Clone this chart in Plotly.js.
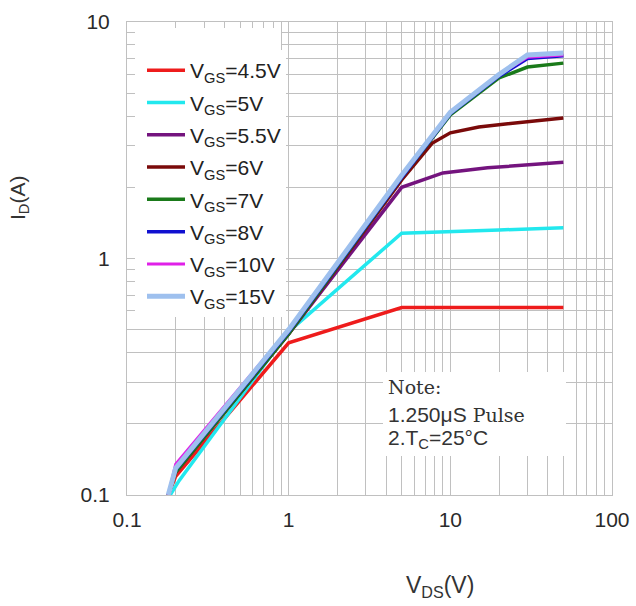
<!DOCTYPE html>
<html>
<head>
<meta charset="utf-8">
<script src="https://cdn.plot.ly/plotly-3.0.1.min.js"></script>
<style>html,body{margin:0;padding:0;background:#fff;}#chart{width:636px;height:606px;}</style>
</head>
<body>
<div id="chart"></div>
<script>
// ---- data (V_DS in V, I_D in A) ----
const seriesNames = ["V<sub>GS</sub>=4.5V","V<sub>GS</sub>=5V","V<sub>GS</sub>=5.5V","V<sub>GS</sub>=6V","V<sub>GS</sub>=7V","V<sub>GS</sub>=8V","V<sub>GS</sub>=10V","V<sub>GS</sub>=15V"];
const seriesColors = ["#ee1c1c","#22e8ee","#74147e","#7a0a0a","#1a7a1a","#1010d0","#e020e8","#9ec0ee"];

const vds_45 = [0.18, 0.2, 1, 5, 50];
const id_45  = [0.1, 0.12, 0.44, 0.62, 0.62];
const vds_5  = [0.185, 0.21, 1, 5, 20, 50];
const id_5   = [0.1, 0.115, 0.49, 1.28, 1.32, 1.35];
const vds_55 = [0.18, 0.2, 1, 5, 9, 17, 50];
const id_55  = [0.1, 0.125, 0.48, 2.0, 2.3, 2.42, 2.55];
const vds_6  = [0.18, 0.2, 1, 5, 7.7, 10, 15, 50];
const id_6   = [0.1, 0.125, 0.48, 2.15, 3.07, 3.4, 3.6, 3.93];
const vds_7  = [0.18, 0.2, 1, 5, 10, 20, 30, 50];
const id_7   = [0.1, 0.125, 0.48, 2.2, 4.05, 5.8, 6.45, 6.7];
const vds_8  = [0.18, 0.2, 1, 5, 10, 20, 30, 50];
const id_8   = [0.1, 0.128, 0.49, 2.2, 4.1, 5.9, 7.0, 7.2];
const vds_10 = [0.18, 0.2, 1, 5, 10, 20, 30, 50];
const id_10  = [0.1, 0.135, 0.5, 2.25, 4.15, 6.0, 7.1, 7.25];
const vds_15 = [0.18, 0.2, 1, 5, 10, 20, 30, 50];
const id_15  = [0.1, 0.13, 0.5, 2.25, 4.15, 6.0, 7.25, 7.4];

const xs = [vds_45, vds_5, vds_55, vds_6, vds_7, vds_8, vds_10, vds_15];
const ys = [id_45, id_5, id_55, id_6, id_7, id_8, id_10, id_15];
const widths = [3.5, 3.5, 3.5, 3.5, 3.5, 3.5, 3, 5];

const xTickVals = [0.1, 1, 10, 100];
const xTickText = ["0.1", "1", "10", "100"];
const yTickVals = [0.1, 1, 10];
const yTickText = ["0.1", "1", "10"];

const traces = xs.map((x, i) => ({
  type: "scatter", mode: "lines",
  x: x, y: ys[i], name: seriesNames[i],
  legendgroup: "g" + i,
  line: {color: seriesColors[i], width: widths[i]}
}));

const gridC = "#c0c0c0";
const sans = "Liberation Sans, Arial, sans-serif";
const tickFont = {family: sans, size: 21, color: "#2a2a2a"};

// plot area in pixels: left 127, right 612, top 22, bottom 495
const px = v => (v - 127) / 485;
const py = v => (495 - v) / 473;

const layout = {
  width: 636, height: 606,
  margin: {l: 127, r: 24, t: 22, b: 111},
  paper_bgcolor: "#fff", plot_bgcolor: "#fff",
  showlegend: true,
  legend: {
    x: px(142), y: py(50), xanchor: "left", yanchor: "top",
    bgcolor: "#fff", borderwidth: 0,
    font: {family: sans, size: 21, color: "#222"},
    tracegroupgap: 2, traceorder: "grouped", itemwidth: 38
  },
  xaxis: {
    type: "log", range: [-1, 2],
    tickvals: xTickVals, ticktext: xTickText,
    showgrid: true, gridcolor: gridC, gridwidth: 1,
    minor: {dtick: "D1", showgrid: true, gridcolor: gridC, gridwidth: 1, ticks: ""},
    showline: true, linecolor: gridC, linewidth: 1, mirror: true,
    ticks: "", tickfont: tickFont, ticklabelstandoff: 6, zeroline: false
  },
  yaxis: {
    type: "log", range: [-1, 1],
    tickvals: yTickVals, ticktext: yTickText,
    showgrid: true, gridcolor: gridC, gridwidth: 1,
    minor: {dtick: "D1", showgrid: true, gridcolor: gridC, gridwidth: 1, ticks: ""},
    showline: true, linecolor: gridC, linewidth: 1, mirror: true,
    ticks: "", tickfont: tickFont, ticklabelstandoff: 12, zeroline: false
  },
  shapes: [
    {type: "rect", xref: "paper", yref: "paper", layer: "above",
     x0: px(135), x1: px(281), y0: py(313), y1: py(28),
     fillcolor: "#fff", line: {width: 0}},
    {type: "rect", xref: "paper", yref: "paper", layer: "above",
     x0: px(383), x1: px(566), y0: py(456), y1: py(372),
     fillcolor: "#fff", line: {width: 0}}
  ],
  annotations: [
    {xref: "paper", yref: "paper", x: px(386), y: py(387), xanchor: "left", yanchor: "middle",
     text: "Note:", showarrow: false,
     font: {family: "DejaVu Serif, Liberation Serif, serif", size: 19, color: "#333"}},
    {xref: "paper", yref: "paper", x: px(386), y: py(414), xanchor: "left", yanchor: "middle",
     text: "1.250μS<span style=\"font-family:'DejaVu Serif';font-size:19px;\"> Pulse</span>", showarrow: false,
     font: {family: sans, size: 21, color: "#333"}},
    {xref: "paper", yref: "paper", x: px(386), y: py(439), xanchor: "left", yanchor: "middle",
     text: "2.T<sub>C</sub>=25°C", showarrow: false,
     font: {family: sans, size: 21, color: "#333"}},
    {xref: "paper", yref: "paper", x: px(19), y: py(198), xanchor: "center", yanchor: "middle",
     text: "I<sub>D</sub>(A)", textangle: -90, showarrow: false,
     font: {family: sans, size: 21, color: "#333"}},
    {xref: "paper", yref: "paper", x: px(440), y: py(586), xanchor: "center", yanchor: "middle",
     text: "V<sub>DS</sub>(V)", showarrow: false,
     font: {family: sans, size: 23, color: "#333"}}
  ]
};

Plotly.newPlot("chart", traces, layout, {staticPlot: true, displayModeBar: false});
</script>
</body>
</html>
